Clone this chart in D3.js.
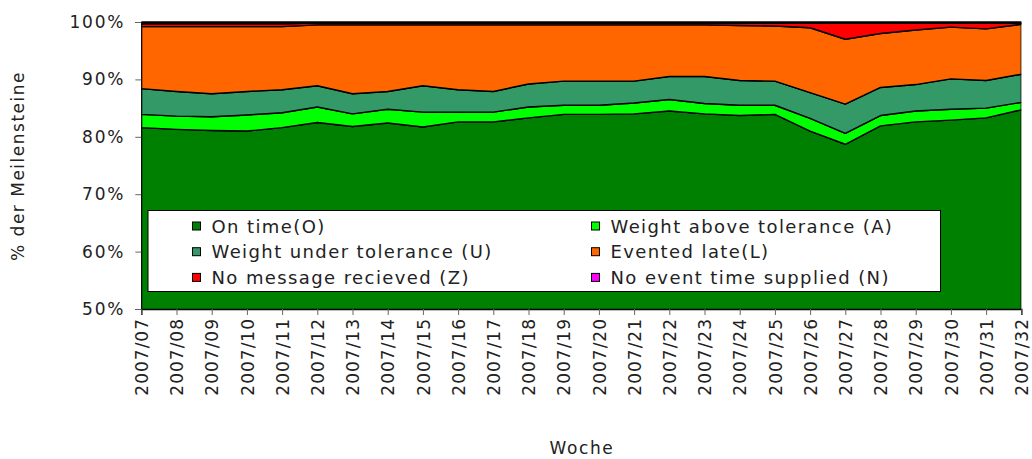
<!DOCTYPE html>
<html><head><meta charset="utf-8">
<script src="https://cdn.jsdelivr.net/npm/d3@7"></script>
<style>body{margin:0;background:#fff}svg{display:block}text{font-family:"DejaVu Sans",sans-serif;fill:#222}</style>
</head><body><svg id="c" width="1032" height="459"></svg>
<script>
const weeks = ["2007/07","2007/08","2007/09","2007/10","2007/11","2007/12","2007/13","2007/14","2007/15","2007/16","2007/17","2007/18","2007/19","2007/20","2007/21","2007/22","2007/23","2007/24","2007/25","2007/26","2007/27","2007/28","2007/29","2007/30","2007/31","2007/32"];
const onTime = [81.6,81.3,81.1,81.0,81.6,82.5,81.8,82.4,81.7,82.6,82.6,83.3,83.9,83.9,84.0,84.5,84.0,83.7,83.9,81.0,78.7,81.9,82.6,82.9,83.3,84.7];
const above  = [2.3,2.3,2.4,2.8,2.6,2.7,2.2,2.4,2.6,1.7,1.7,1.9,1.6,1.6,1.9,2.0,1.8,1.8,1.6,2.2,1.9,1.8,1.9,1.9,1.7,1.3];
const under  = [4.5,4.3,4.0,4.1,4.0,3.7,3.5,3.1,4.6,3.9,3.6,4.0,4.2,4.2,3.8,4.0,4.7,4.3,4.2,4.5,5.1,4.9,4.6,5.3,4.8,4.9];
const late   = [10.8,11.3,11.7,11.3,11.0,10.6,12.0,11.6,10.6,11.3,11.6,10.3,9.8,9.8,9.8,9.0,9.0,9.6,9.6,11.3,11.3,9.4,9.5,9.0,9.0,8.7];
const noMsg  = [0.5,0.5,0.5,0.5,0.5,0.3,0.3,0.3,0.3,0.3,0.3,0.3,0.3,0.3,0.3,0.3,0.3,0.4,0.5,0.8,2.8,1.8,1.2,0.7,1.0,0.2];
const noTime = [0.3,0.3,0.3,0.3,0.3,0.2,0.2,0.2,0.2,0.2,0.2,0.2,0.2,0.2,0.2,0.2,0.2,0.2,0.2,0.2,0.2,0.2,0.2,0.2,0.2,0.2];
const yTicks = [0.5,0.6,0.7,0.8,0.9,1.0];
const seriesNames = ["On time(O)","Weight above tolerance (A)","Weight under tolerance (U)","Evented late(L)","No message recieved (Z)","No event time supplied (N)"];
const seriesColors = ["#008000","#00FF00","#339966","#FF6600","#FF0000","#FF00FF"];
const seriesData = [onTime, above, under, late, noMsg, noTime];

const svg = d3.select("#c");
const L = 141.3, R = 1021.3, T = 22, B = 309;
const x = d3.scalePoint().domain(weeks).range([L, R]);
const y = d3.scaleLinear().domain([0.5, 1.0]).range([B, T]);

const rows = weeks.map((w, i) => {
  const r = {week: w};
  seriesNames.forEach((n, k) => r[n] = seriesData[k][i] / 100);
  return r;
});
const stacked = d3.stack().keys(seriesNames)(rows);

svg.append("defs").append("clipPath").attr("id","clip")
  .append("rect").attr("x", L).attr("y", T).attr("width", R - L).attr("height", B - T);

const area = d3.area()
  .x(d => x(d.data.week))
  .y0(d => y(d[0]))
  .y1(d => y(d[1]));

const g = svg.append("g").attr("clip-path","url(#clip)");
g.selectAll("path.a").data(stacked).join("path")
  .attr("class","a")
  .attr("d", area)
  .attr("fill", (d, i) => seriesColors[i])
  .attr("stroke", "#000")
  .attr("stroke-width", 1.4)
  .attr("stroke-linejoin", "round");

// top border
svg.append("line").attr("x1", L).attr("x2", R).attr("y1", T + 0.5).attr("y2", T + 0.5)
  .attr("stroke", "#000").attr("stroke-width", 2.5);

// y axis
const yAxis = svg.append("g").attr("transform", `translate(${L},0)`)
  .call(d3.axisLeft(y).tickValues(yTicks).tickFormat(d3.format(".0%")).tickSize(6).tickPadding(10));
yAxis.select(".domain").attr("stroke", "#000");
yAxis.selectAll(".tick line").attr("stroke", "#666");
yAxis.selectAll("text").attr("font-size", 17).attr("letter-spacing", "1.8px").attr("fill","#222");

// x axis
const xAxis = svg.append("g").attr("transform", `translate(0,${B})`)
  .call(d3.axisBottom(x).tickSize(6).tickPadding(0));
xAxis.select(".domain").attr("stroke", "#000").attr("stroke-width", 1.4);
xAxis.selectAll(".tick line").attr("stroke", "#666");
xAxis.selectAll("text")
  .attr("font-size", 17).attr("letter-spacing", "1px").attr("fill","#222")
  .attr("transform", "rotate(-90)")
  .attr("text-anchor", "end")
  .attr("x", -9).attr("y", 0).attr("dy", "0.36em");

// axis titles
svg.append("text").attr("x", 582).attr("y", 454).attr("text-anchor","middle")
  .attr("font-size", 17).attr("letter-spacing","1.6px").text("Woche");
svg.append("text").attr("transform", "translate(24,166) rotate(-90)").attr("text-anchor","middle")
  .attr("font-size", 17).attr("letter-spacing","1.5px").text("% der Meilensteine");

// legend
const lg = svg.append("g");
lg.append("rect").attr("x", 148).attr("y", 210.5).attr("width", 792.5).attr("height", 81)
  .attr("fill", "#fff").attr("stroke", "#000").attr("stroke-width", 1);
const order = [0, 1, 2, 3, 4, 5];
order.forEach((k, j) => {
  const col = j % 2, row = Math.floor(j / 2);
  const sx = col === 0 ? 192.5 : 591.5;
  const cy = 226 + row * 25.7;
  lg.append("rect").attr("x", sx).attr("y", cy - 4).attr("width", 8).attr("height", 8)
    .attr("fill", seriesColors[k]).attr("stroke", "#000").attr("stroke-width", 1);
  lg.append("text").attr("x", sx + 19).attr("y", cy + 6.5)
    .attr("font-size", 18).attr("letter-spacing", "1.4px").text(seriesNames[k]);
});
</script></body></html>
